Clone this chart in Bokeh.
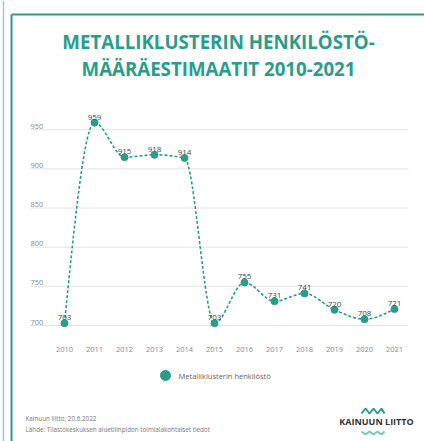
import numpy as np
from bokeh.plotting import figure
from bokeh.models import Range1d
from bokeh.core.properties import value
from bokeh.embed import file_html
from bokeh.resources import INLINE

# ---------------- data ----------------
years = [2010, 2011, 2012, 2013, 2014, 2015, 2016, 2017, 2018, 2019, 2020, 2021]
staff = [703, 959, 915, 918, 914, 703, 755, 731, 741, 720, 708, 721]
y_ticks = [700, 750, 800, 850, 900, 950]
series_name = "Metalliklusterin henkilöstö"
title_lines = ["METALLIKLUSTERIN HENKILÖSTÖ-", "MÄÄRÄESTIMAATIT 2010-2021"]
footer_lines = ["Kainuun liitto, 20.6.2022",
                "Lähde: Tilastokeskuksen aluetilinpidon toimialakohtaiset tiedot"]
logo_text = "KAINUUN LIITTO"

TEAL = "#2a9d8a"
W, H = 424, 441

# pixel mapping of the data frame (frame = whole canvas)
PX0, PXSTEP = 64.0, 30.0        # x pixel of 2010, pixels per year
PY700, PYUNIT = 325.0, 0.783    # y pixel of 700, pixels per unit

x_start = years[0] - PX0 / PXSTEP
x_end = years[0] + (W - PX0) / PXSTEP
y_top = 700 + PY700 / PYUNIT
y_bot = 700 - (H - PY700) / PYUNIT

p = figure(width=W, height=H, x_range=Range1d(x_start, x_end), y_range=Range1d(y_bot, y_top),
           output_backend="svg", toolbar_location=None, min_border=0,
           x_axis_type=None, y_axis_type=None, outline_line_color=None,
           background_fill_color="white", border_fill_color="white")
p.extra_x_ranges = {"px": Range1d(0, W)}
p.extra_y_ranges = {"py": Range1d(H, 0)}

PX = dict(x_range_name="px", y_range_name="py")

def xdata(px):
    return years[0] + (px - PX0) / PXSTEP

# ---------------- gridlines + y labels ----------------
gx0, gx1 = xdata(30), xdata(408)
p.segment(x0=[gx0] * len(y_ticks), x1=[gx1] * len(y_ticks), y0=y_ticks, y1=y_ticks,
          line_color="#e3e3e3", line_width=1)
p.text(x=[gx0] * len(y_ticks), y=y_ticks, text=[str(t) for t in y_ticks],
       text_font=value("Open Sans"), text_font_size="7.5px", text_color="#8a8a8a",
       text_align="left", text_baseline="bottom", y_offset=-1)

# x labels
p.text(x=years, y=[700] * len(years), text=[str(y) for y in years],
       text_font=value("Open Sans"), text_font_size="7.5px", text_color="#8a8a8a",
       text_align="center", text_baseline="middle", y_offset=24)

# ---------------- monotone cubic curve (d3 monotoneX) as beziers ----------------
xs = np.array(years, dtype=float)
ys = np.array(staff, dtype=float)
n = len(xs)
h = np.diff(xs)
s = np.diff(ys) / h
m = np.zeros(n)
for i in range(1, n - 1):
    h0, h1 = h[i - 1], h[i]
    s0, s1 = s[i - 1], s[i]
    pp = (s0 * h1 + s1 * h0) / (h0 + h1)
    m[i] = (np.sign(s0) + np.sign(s1)) * min(abs(s0), abs(s1), 0.5 * abs(pp))
m[0] = (3 * s[0] - m[1]) / 2
m[-1] = (3 * s[-1] - m[-2]) / 2
cx0 = xs[:-1] + h / 3
cy0 = ys[:-1] + m[:-1] * h / 3
cx1 = xs[1:] - h / 3
cy1 = ys[1:] - m[1:] * h / 3
p.bezier(x0=xs[:-1], y0=ys[:-1], x1=xs[1:], y1=ys[1:], cx0=cx0, cy0=cy0, cx1=cx1, cy1=cy1,
         line_color=TEAL, line_width=1.6, line_dash="3 2")

p.scatter(x=years, y=staff, size=7, fill_color=TEAL, line_color=TEAL)
p.text(x=years, y=staff, text=[str(v) for v in staff],
       text_font=value("Open Sans"), text_font_size="8px", text_color="#444444",
       text_align="center", text_baseline="bottom", y_offset=-3)

# ---------------- legend ----------------
p.scatter(x=[165], y=[375], size=10, fill_color=TEAL, line_color=TEAL, **PX)
p.text(x=[178], y=[375], text=[series_name], text_font=value("Open Sans"),
       text_font_size="7.5px", text_color="#666666", text_align="left",
       text_baseline="middle", **PX)

# ---------------- frame ----------------
p.segment(x0=[3], y0=[0], x1=[3], y1=[H], line_color="#8ed1c5", line_width=1.5, **PX)
p.segment(x0=[11, 11], y0=[14, 14], x1=[11, W], y1=[H, 14], line_color=TEAL, line_width=2, **PX)

# ---------------- title ----------------
p.text(x=[218, 218], y=[41, 68], text=title_lines, text_font=value("Open Sans"),
       text_font_style="bold", text_font_size="18.7px", text_color=TEAL,
       text_align="center", text_baseline="middle", **PX)

# ---------------- footer ----------------
p.text(x=[25, 25], y=[418, 429], text=footer_lines, text_font=value("Open Sans"),
       text_font_size="6.3px", text_color="#777777", text_align="left",
       text_baseline="middle", **PX)

# logo
p.text(x=[376], y=[421], text=[logo_text], text_font=value("Open Sans"),
       text_font_style="bold", text_font_size="9px", text_color="#333333",
       text_align="center", text_baseline="middle", **PX)
wave_x = [361, 365, 369, 373, 377, 381, 384]
wave_top = [413, 408, 413, 408, 413, 408, 413]
p.line(x=wave_x, y=wave_top, line_color=TEAL, line_width=2, **PX)
wave_bot = [431, 434, 431, 434, 431, 434, 431]
p.line(x=wave_x, y=wave_bot, line_color="#7cc9bb", line_width=2, **PX)

open("out.html", "w").write(file_html(p, INLINE))
